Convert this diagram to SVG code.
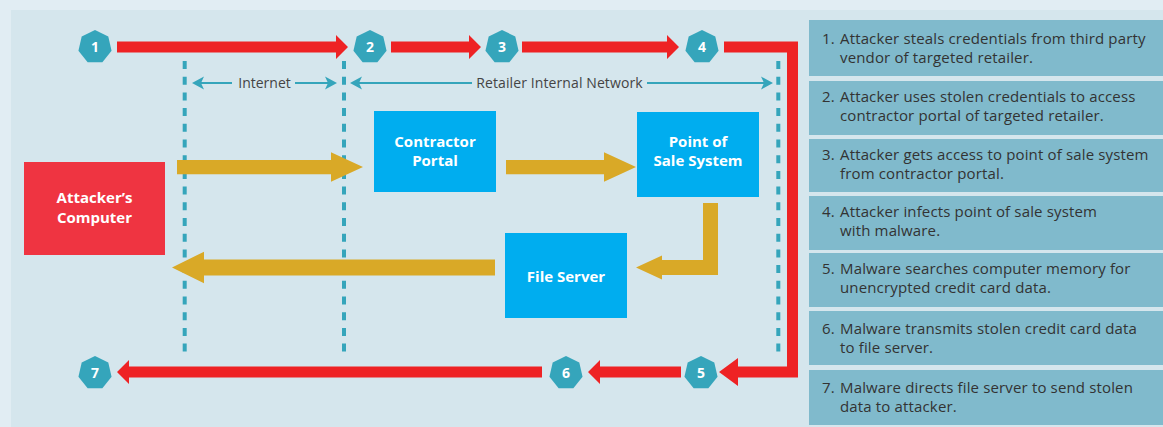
<svg xmlns="http://www.w3.org/2000/svg" width="1163" height="427" viewBox="0 0 1163 427">
<defs>
<style>
.hep{fill:#35a5bb}
.hnum{font-family:"Open Sans","Liberation Sans",sans-serif;font-weight:bold;font-size:14px;fill:#fff;text-anchor:middle}
.red{fill:#ee2224}
.gold{fill:#d9a927}
.dash{stroke:#35a5bb;stroke-width:4;stroke-dasharray:8 7.7;fill:none}
.net{stroke:#35a5bb;stroke-width:2;fill:none}
.nethead{fill:#35a5bb}
.netlbl{font-family:"Open Sans","Liberation Sans",sans-serif;font-size:14px;fill:#444;text-anchor:middle}
.node{fill:#00adef}
.nodelbl{font-family:"Open Sans","Liberation Sans",sans-serif;font-weight:bold;font-size:15px;fill:#fff;text-anchor:middle}
.step{fill:#80bacc}
.steptxt{font-family:"Open Sans","Liberation Sans",sans-serif;font-size:15px;letter-spacing:0.15px;fill:#333}
</style>
<polygon id="hept" points="0,-17 13.29,-10.6 16.57,3.78 7.38,15.32 -7.38,15.32 -16.57,3.78 -13.29,-10.6"/>
</defs>
<rect x="0" y="0" width="1163" height="427" fill="#e1edf3"/>
<rect x="11" y="10" width="1152" height="417" fill="#d5e6ed"/>

<g id="zones">
<line class="dash" x1="184.7" y1="61" x2="184.7" y2="355"/>
<line class="dash" x1="344" y1="61" x2="344" y2="355"/>
<line class="dash" x1="778.3" y1="61" x2="778.3" y2="355"/>
<line class="net" x1="200" y1="83" x2="232" y2="83"/>
<line class="net" x1="295" y1="83" x2="329" y2="83"/>
<polygon class="nethead" points="192,83 204,76.5 201,83 204,89.5"/>
<polygon class="nethead" points="337,83 325,76.5 328,83 325,89.5"/>
<text class="netlbl" x="264.5" y="88">Internet</text>
<line class="net" x1="358" y1="83" x2="472" y2="83"/>
<line class="net" x1="647" y1="83" x2="765" y2="83"/>
<polygon class="nethead" points="350,83 362,76.5 359,83 362,89.5"/>
<polygon class="nethead" points="773,83 761,76.5 764,83 761,89.5"/>
<text class="netlbl" x="559.5" y="88" letter-spacing="0.1">Retailer Internal Network</text>
</g>

<g id="connectors">
<polygon class="red" points="117,41.5 336,41.5 336,35 348,47 336,59 336,52.5 117,52.5"/>
<polygon class="red" points="391,41.5 469,41.5 469,35 481,47 469,59 469,52.5 391,52.5"/>
<polygon class="red" points="522,41.5 667,41.5 667,35 679,47 667,59 667,52.5 522,52.5"/>
<polygon class="red" points="724,41.5 798,41.5 798,377.5 738,377.5 738,386 719,372 738,358 738,366.5 787,366.5 787,52.5 724,52.5"/>
<polygon class="red" points="681,366.5 600,366.5 600,360 588,372 600,384 600,377.5 681,377.5"/>
<polygon class="red" points="542,366.5 129,366.5 129,360 117,372 129,384 129,377.5 542,377.5"/>
<polygon class="gold" points="177,160 331,160 331,152.3 363,167 331,181.7 331,174.3 177,174.3"/>
<polygon class="gold" points="506,160 604,160 604,152.3 636,167 604,181.7 604,174.3 506,174.3"/>
<polygon class="gold" points="703,203 718,203 718,275 662,275 662,279.5 636,267.5 662,255.5 662,260 703,260"/>
<polygon class="gold" points="495,259.5 204,259.5 204,251.7 172,267.5 204,283.3 204,275.5 495,275.5"/>
</g>

<g id="step1"><use href="#hept" class="hep" x="95" y="47"/><text class="hnum" x="95" y="52">1</text></g>
<g id="step2"><use href="#hept" class="hep" x="370" y="47"/><text class="hnum" x="370" y="52">2</text></g>
<g id="step3"><use href="#hept" class="hep" x="502" y="47"/><text class="hnum" x="502" y="52">3</text></g>
<g id="step4"><use href="#hept" class="hep" x="702" y="47"/><text class="hnum" x="702" y="52">4</text></g>
<g id="step5"><use href="#hept" class="hep" x="701" y="373"/><text class="hnum" x="701" y="378">5</text></g>
<g id="step6"><use href="#hept" class="hep" x="566" y="373"/><text class="hnum" x="566" y="378">6</text></g>
<g id="step7"><use href="#hept" class="hep" x="95" y="373"/><text class="hnum" x="95" y="378">7</text></g>

<g id="attacker"><rect x="24" y="162" width="141" height="93" fill="#ef3441"/>
<text class="nodelbl" x="94.5" y="203">Attacker’s</text><text class="nodelbl" x="94.5" y="222.5">Computer</text></g>
<g id="contractor"><rect class="node" x="374" y="111" width="122" height="81"/>
<text class="nodelbl" x="435" y="146.5">Contractor</text><text class="nodelbl" x="435" y="165.5">Portal</text></g>
<g id="pos"><rect class="node" x="637" y="112" width="122" height="85"/>
<text class="nodelbl" x="698" y="146.5">Point of</text><text class="nodelbl" x="698" y="165.5">Sale System</text></g>
<g id="fileserver"><rect class="node" x="505" y="233" width="122" height="85"/>
<text class="nodelbl" x="566" y="281.5">File Server</text></g>

<g id="legend">
<rect class="step" x="809" y="20" width="354" height="56"/>
<text class="steptxt" y="44"><tspan x="822">1.</tspan><tspan x="840">Attacker steals credentials from third party</tspan></text>
<text class="steptxt" x="840" y="63">vendor of targeted retailer.</text>
<rect class="step" x="809" y="81" width="354" height="54"/>
<text class="steptxt" y="102"><tspan x="822">2.</tspan><tspan x="840">Attacker uses stolen credentials to access</tspan></text>
<text class="steptxt" x="840" y="121">contractor portal of targeted retailer.</text>
<rect class="step" x="809" y="139" width="354" height="53"/>
<text class="steptxt" y="160"><tspan x="822">3.</tspan><tspan x="840">Attacker gets access to point of sale system</tspan></text>
<text class="steptxt" x="840" y="179">from contractor portal.</text>
<rect class="step" x="809" y="196" width="354" height="54"/>
<text class="steptxt" y="217"><tspan x="822">4.</tspan><tspan x="840">Attacker infects point of sale system</tspan></text>
<text class="steptxt" x="840" y="236">with malware.</text>
<rect class="step" x="809" y="253" width="354" height="54"/>
<text class="steptxt" y="274"><tspan x="822">5.</tspan><tspan x="840">Malware searches computer memory for</tspan></text>
<text class="steptxt" x="840" y="293">unencrypted credit card data.</text>
<rect class="step" x="809" y="311" width="354" height="54"/>
<text class="steptxt" y="334"><tspan x="822">6.</tspan><tspan x="840">Malware transmits stolen credit card data</tspan></text>
<text class="steptxt" x="840" y="353">to file server.</text>
<rect class="step" x="809" y="370" width="354" height="55"/>
<text class="steptxt" y="393"><tspan x="822">7.</tspan><tspan x="840">Malware directs file server to send stolen</tspan></text>
<text class="steptxt" x="840" y="412">data to attacker.</text>
</g>
</svg>
